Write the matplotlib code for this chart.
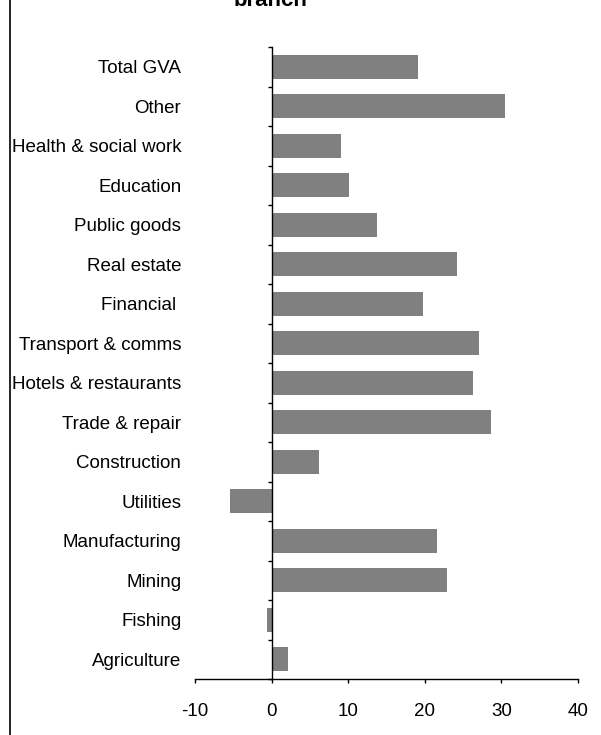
import matplotlib
matplotlib.use("Agg")
import matplotlib.pyplot as plt
from matplotlib.lines import Line2D
import numpy as np

plt.rcParams['font.family'] = ['Liberation Sans', 'DejaVu Sans']

categories = ["Agriculture", "Fishing", "Mining", "Manufacturing", "Utilities",
              "Construction", "Trade & repair", "Hotels & restaurants",
              "Transport & comms", "Financial ", "Real estate", "Public goods",
              "Education", "Health & social work", "Other", "Total GVA"]
values = [2.1, -0.6, 22.9, 21.6, -5.4, 6.2, 28.7, 26.3, 27.1, 19.8, 24.2,
          13.8, 10.1, 9.1, 30.5, 19.1]
xticks = [-10, 0, 10, 20, 30, 40]

W, H = 601, 735
fig = plt.figure(figsize=(W / 100, H / 100), dpi=100)
ax = fig.add_axes([195 / W, 1 - 679 / H, (578 - 195) / W, (679 - 47) / H])

n = len(categories)
y = np.arange(n)
ax.barh(y, values, height=0.6, color="#808080", edgecolor="none", zorder=2)

ax.set_xlim(-10, 40)
ax.set_ylim(-0.5, n - 0.5)
ax.set_xticks(xticks)
ax.set_xticklabels([str(t) for t in xticks], fontsize=13.5)
ax.tick_params(axis='x', direction='out', length=3, width=1, pad=14, colors='black')

# y axis at x=0: major ticks at boundaries, labels at centers (minor)
ax.spines['left'].set_position(('data', 0))
ax.spines['left'].set_linewidth(1)
ax.spines['left'].set_zorder(3)
ax.set_yticks(np.arange(-0.5, n, 1.0))
ax.set_yticklabels([])
ax.tick_params(axis='y', which='major', direction='out', length=3, width=1)
ax.set_yticks(y, minor=True)
ax.set_yticklabels(categories, minor=True, fontsize=13.5)
ax.tick_params(axis='y', which='minor', length=0, pad=65)

for s in ['top', 'right']:
    ax.spines[s].set_visible(False)
ax.spines['bottom'].set_linewidth(1)

# chart-area left border
fig.add_artist(Line2D([9.5 / W, 9.5 / W], [0, 1], transform=fig.transFigure,
                      color='black', lw=1.2))

# title (only the last line visible at top)
fig.text(271 / W, 1 - 6 / H, "branch", ha='center', va='baseline',
         fontsize=16, fontweight='bold')

fig.savefig("out.png", dpi=100)
